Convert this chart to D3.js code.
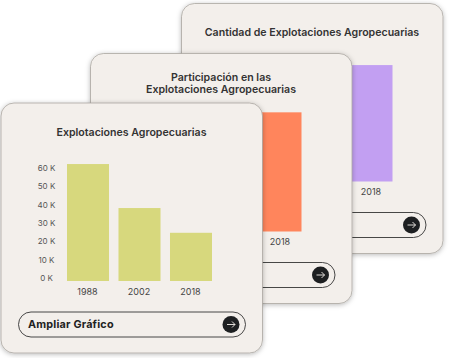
<!DOCTYPE html>
<html lang="en">
<head>
<meta charset="utf-8">
<title>Explotaciones Agropecuarias</title>
<script src="https://cdn.jsdelivr.net/npm/d3@7"></script>
<style>
  html, body { margin: 0; padding: 0; background: #fff; }
  svg { display: block; }
  text { font-family: Inter, "Open Sans", sans-serif; }
</style>
</head>
<body>
<script>
// values
var years = ["1988", "2002", "2018"];
var explotaciones = [63800, 39800, 26300];
var participacion = [65000];   // only the 2018 bar shows, rest is behind the front card
var cantidad = [63500];        // same
var shownYear = ["2018"];
var yTicks = [0, 10000, 20000, 30000, 40000, 50000, 60000];
var buttonLabel = "Ampliar Gráfico";

var w = 450, h = 358;
var cardW = 261.5, cardH = 250;

var svg = d3.select("body").append("svg").attr("width", w).attr("height", h);

var defs = svg.append("defs");
var shadow = defs.append("filter").attr("id", "shadow")
  .attr("x", "-10%").attr("y", "-10%").attr("width", "120%").attr("height", "120%");
shadow.append("feDropShadow").attr("dx", 0).attr("dy", 1).attr("stdDeviation", 2.5)
  .attr("flood-color", "#000").attr("flood-opacity", 0.28);

// all cards share the same inner layout
var xScale = d3.scaleBand().domain(years).range([66, 211]).paddingInner(0.184).paddingOuter(0);
var yScale = d3.scaleLinear().domain([0, 60000]).range([178, 68]);

function drawCard(x, y, titleLines, titleY, values, yrs, color, showAxis) {
  var g = svg.append("g").attr("transform", "translate(" + x + "," + y + ")");

  g.append("rect")
    .attr("width", cardW).attr("height", cardH).attr("rx", 13)
    .attr("fill", "#f3efeb").attr("stroke", "#a09c97").attr("stroke-width", 0.7)
    .attr("filter", "url(#shadow)");

  g.selectAll(".bar").data(values).enter().append("rect")
    .attr("class", "bar")
    .attr("x", function(d, i) { return xScale(yrs[i]); })
    .attr("width", xScale.bandwidth())
    .attr("y", function(d) { return yScale(d); })
    .attr("height", function(d) { return yScale(0) - yScale(d); })
    .attr("fill", color);

  g.selectAll(".title").data(titleLines).enter().append("text")
    .attr("class", "title")
    .attr("x", 130.5)
    .attr("y", function(d, i) { return titleY + i * 12.5; })
    .attr("text-anchor", "middle")
    .attr("font-size", 10.6)
    .attr("font-weight", 600)
    .attr("fill", "#333")
    .text(function(d) { return d; });

  g.selectAll(".year").data(yrs).enter().append("text")
    .attr("class", "year")
    .attr("x", function(d) { return xScale(d) + xScale.bandwidth() / 2 - 0.5; })
    .attr("y", 191.5)
    .attr("text-anchor", "middle")
    .attr("font-size", 9)
    .attr("fill", "#444")
    .text(function(d) { return d; });

  if (showAxis) {
    var axis = g.append("g").attr("transform", "translate(45.5,-3)")
      .call(d3.axisLeft(yScale).tickValues(yTicks).tickSize(0)
        .tickFormat(function(d) { return (d / 1000) + " K"; }));
    axis.select(".domain").remove();
    axis.selectAll("text")
      .attr("x", 0).attr("dy", "0.32em").attr("text-anchor", "middle")
      .attr("font-size", 8).attr("fill", "#555")
      .style("font-family", "Inter, sans-serif");
  }

  // button
  g.append("rect")
    .attr("x", 17.5).attr("y", 209).attr("width", 227).attr("height", 25).attr("rx", 12.5)
    .attr("fill", "none").attr("stroke", "#333").attr("stroke-width", 0.9);
  g.append("text")
    .attr("x", 27).attr("y", 225.2)
    .attr("font-size", 10.8).attr("font-weight", 700).attr("letter-spacing", 0.2).attr("fill", "#222")
    .text(buttonLabel);
  g.append("circle").attr("cx", 230).attr("cy", 221.5).attr("r", 8.5).attr("fill", "#1d1f21");
  g.append("path")
    .attr("d", "M226 221.5H234M231 218.5L234 221.5L231 224.5")
    .attr("fill", "none").attr("stroke", "#f3eeea").attr("stroke-width", 0.9);
}

drawCard(181.5, 3.5, ["Cantidad de Explotaciones Agropecuarias"], 32.5, cantidad, shownYear, "#c29ff2", false);
drawCard(90.5, 53.5, ["Participación en las", "Explotaciones Agropecuarias"], 27, participacion, shownYear, "#ff855c", false);
drawCard(1, 103, ["Explotaciones Agropecuarias"], 32.5, explotaciones, years, "#d7d87d", true);
</script>
</body>
</html>
